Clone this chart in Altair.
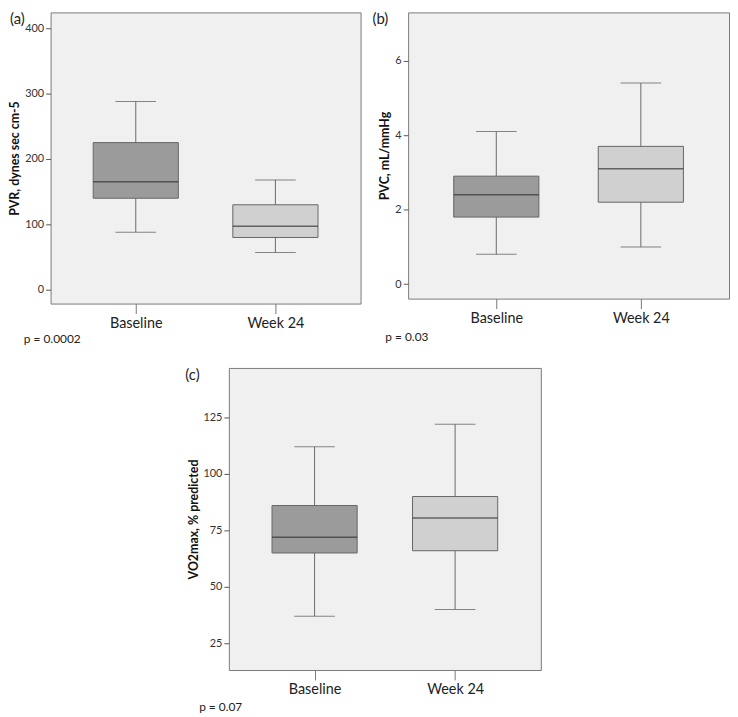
import altair as alt
import pandas as pd

# ---- data ----
categories = ["Baseline", "Week 24"]

pvr_min = [88, 57]
pvr_q1 = [140, 80]
pvr_med = [165, 97]
pvr_q3 = [225, 130]
pvr_max = [288, 168]

pvc_min = [0.8, 1.0]
pvc_q1 = [1.8, 2.2]
pvc_med = [2.4, 3.1]
pvc_q3 = [2.9, 3.7]
pvc_max = [4.1, 5.4]

vo2_min = [37, 40]
vo2_q1 = [65, 66]
vo2_med = [72, 80.5]
vo2_q3 = [86, 90]
vo2_max = [112, 122]

panel_letters = ["(a)", "(b)", "(c)"]
p_values = ["p = 0.0002", "p = 0.03", "p = 0.07"]
y_titles = ["PVR, dynes sec cm-5", "PVC, mL/mmHg", "VO2max, % predicted"]
pvr_ticks = [0, 100, 200, 300, 400]
pvc_ticks = [0, 2, 4, 6]
vo2_ticks = [25, 50, 75, 100, 125]

FONT = "Lato"
box_colors = ["#9b9b9b", "#d0d0d0"]


def make_df(mn, q1, med, q3, mx):
    return pd.DataFrame({"cat": categories, "min": mn, "q1": q1, "med": med,
                         "q3": q3, "max": mx})


def panel(df, domain, ticks, title, w, h, letter, letter_xy, ptext, p_xy):
    xenc = alt.X("cat:N", sort=categories,
                 scale=alt.Scale(type="point", padding=0.61),
                 axis=alt.Axis(title=None, labelAngle=0, labelFontSize=14.5,
                               labelColor="#222", labelFont=FONT, tickSize=10,
                               tickColor="#777", domain=False, labelPadding=3))
    yaxis = alt.Axis(values=ticks, title=title, titleFontWeight="bold",
                     titleFontSize=12.5, titleFont=FONT, titleColor="#111",
                     labelFontSize=11, labelFont=FONT, labelColor="#333",
                     tickSize=5, tickColor="#555", domain=False, grid=False,
                     titlePadding=3)
    yscale = alt.Scale(domain=domain, nice=False, zero=False)

    def Y(f):
        return alt.Y(f"{f}:Q", scale=yscale, axis=yaxis)

    base = alt.Chart(df)
    whisk = base.mark_rule(color="#6a6a6a", strokeWidth=1).encode(
        x=xenc, y=Y("min"), y2="max:Q")
    box = base.mark_bar(size=86, stroke="#666", strokeWidth=1).encode(
        x=xenc, y=Y("q1"), y2="q3:Q",
        color=alt.Color("cat:N", scale=alt.Scale(domain=categories, range=box_colors),
                        legend=None))
    cap_lo = base.mark_tick(size=41, thickness=1, color="#555").encode(x=xenc, y=Y("min"))
    cap_hi = base.mark_tick(size=41, thickness=1, color="#555").encode(x=xenc, y=Y("max"))
    med = base.mark_tick(size=86, thickness=1.5, color="#333").encode(x=xenc, y=Y("med"))

    lab = alt.Chart(pd.DataFrame({"t": [letter]})).mark_text(
        align="left", baseline="middle", fontSize=15, font=FONT, color="#222").encode(
        x=alt.value(letter_xy[0]), y=alt.value(letter_xy[1]), text="t:N")
    ptx = alt.Chart(pd.DataFrame({"t": [ptext]})).mark_text(
        align="left", baseline="middle", fontSize=12, font=FONT, color="#222").encode(
        x=alt.value(p_xy[0]), y=alt.value(p_xy[1]), text="t:N")

    return alt.layer(whisk, box, cap_lo, cap_hi, med, lab, ptx).properties(
        width=w, height=h,
        view=alt.ViewBackground(fill="#f0f0f0", stroke="#7a7a7a", strokeWidth=1))


ha, hb, hc = 294, 289, 305
pa = panel(make_df(pvr_min, pvr_q1, pvr_med, pvr_q3, pvr_max), [-21, 424], pvr_ticks,
           y_titles[0], 313, ha, panel_letters[0], (-41, 7), p_values[0], (-27, ha + 36))
pb = panel(make_df(pvc_min, pvc_q1, pvc_med, pvc_q3, pvc_max), [-0.39, 7.3], pvc_ticks,
           y_titles[1], 324, hb, panel_letters[1], (-36, 7), p_values[1], (-23, hb + 39))
pc = panel(make_df(vo2_min, vo2_q1, vo2_med, vo2_q3, vo2_max), [13.2, 146.9], vo2_ticks,
           y_titles[2], 315, hc, panel_letters[2], (-44, 7), p_values[2], (-30, hc + 37))

spacer = alt.Chart(pd.DataFrame({"v": [0]})).mark_point(opacity=0).encode(
    x=alt.value(0), y=alt.value(0)).properties(
    width=134, height=10, view=alt.ViewBackground(stroke="transparent", fill="transparent"))

top = alt.hconcat(pa, pb, spacing=10)
bottom = alt.hconcat(spacer, pc, spacing=0)
chart = alt.vconcat(top, bottom, spacing=18).properties(padding=0, background="white")

chart.save("out.html", embed_options={"renderer": "svg", "actions": False})
